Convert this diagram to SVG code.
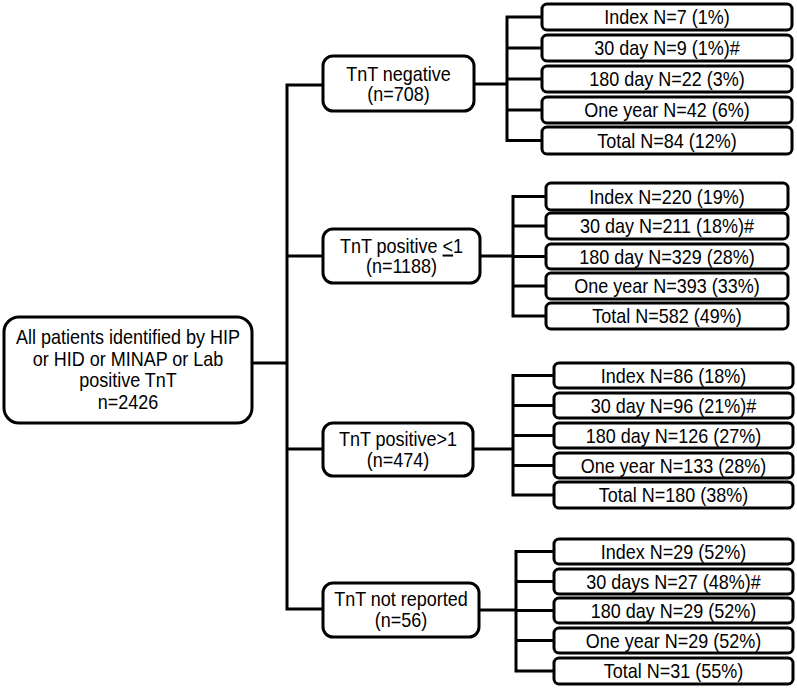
<svg xmlns="http://www.w3.org/2000/svg" width="797" height="688" viewBox="0 0 797 688">
<style>
.box{fill:#fff;stroke:#000;stroke-width:3}
.ln{fill:none;stroke:#000;stroke-width:3;stroke-linejoin:miter;stroke-linecap:square}
text{font-family:"Liberation Sans",Arial,sans-serif;font-size:20px;fill:#000;text-anchor:middle}
</style>
<rect width="797" height="688" fill="#fff"/>
<g id="connectors">
<path class="ln" d="M252 363H287M287 85V609M287 85H323M287 256H323M287 449H323M287 609H323"/>
<path class="ln" d="M474 84H507M507 17V140.5M507 17H542M507 48H542M507 79H542M507 110H542M507 140.5H542"/>
<path class="ln" d="M480 256H513M513 196.5V316M513 196.5H546M513 226H546M513 256.5H546M513 286H546M513 316H546"/>
<path class="ln" d="M473 449H513M513 375.5V495M513 375.5H554M513 405.5H554M513 435.5H554M513 465.5H554M513 495H554"/>
<path class="ln" d="M479 610H516M516 551.5V671M516 551.5H554M516 581.5H554M516 610.5H554M516 640.5H554M516 671H554"/>
</g>
<g id="root"><rect class="box" x="4" y="317" width="248" height="106" rx="15"/>
<text transform="matrix(0.9 0 0 1 128 0)" x="0" y="344">All patients identified by HIP</text><text transform="matrix(0.9 0 0 1 128 0)" x="0" y="366">or HID or MINAP or Lab</text><text transform="matrix(0.9 0 0 1 128 0)" x="0" y="387.5">positive TnT</text><text transform="matrix(0.9 0 0 1 128 0)" x="0" y="409">n=2426</text></g>
<g id="tnt-neg"><rect class="box" x="323" y="56" width="151" height="55" rx="10"/>
<text transform="matrix(0.9 0 0 1 398.5 0)" x="0" y="81">TnT negative</text><text transform="matrix(0.9 0 0 1 398.5 0)" x="0" y="101">(n=708)</text></g>
<g id="tnt-pos1"><rect class="box" x="323" y="229" width="157" height="54" rx="10"/>
<text transform="matrix(0.9 0 0 1 401.5 0)" x="0" y="253.5">TnT positive <tspan text-decoration="underline">&lt;</tspan>1</text><text transform="matrix(0.9 0 0 1 401.5 0)" x="0" y="273.5">(n=1188)</text></g>
<g id="tnt-pos2"><rect class="box" x="323" y="423" width="150" height="53" rx="10"/>
<text transform="matrix(0.9 0 0 1 398 0)" x="0" y="446.5">TnT positive&gt;1</text><text transform="matrix(0.9 0 0 1 398 0)" x="0" y="467">(n=474)</text></g>
<g id="tnt-nr"><rect class="box" x="323" y="583" width="156" height="54" rx="10"/>
<text transform="matrix(0.9 0 0 1 401 0)" x="0" y="606.5">TnT not reported</text><text transform="matrix(0.9 0 0 1 401 0)" x="0" y="627.5">(n=56)</text></g>

<g id="neg-index"><rect class="box" x="542" y="4" width="250" height="26" rx="5"/><text transform="matrix(0.9 0 0 1 667 0)" x="0" y="24.5">Index N=7 (1%)</text></g>
<g id="neg-30"><rect class="box" x="542" y="35" width="250" height="26" rx="5"/><text transform="matrix(0.9 0 0 1 667 0)" x="0" y="55.5">30 day N=9 (1%)#</text></g>
<g id="neg-180"><rect class="box" x="542" y="66" width="250" height="26" rx="5"/><text transform="matrix(0.9 0 0 1 667 0)" x="0" y="86.5">180 day N=22 (3%)</text></g>
<g id="neg-1y"><rect class="box" x="542" y="97" width="250" height="26" rx="5"/><text transform="matrix(0.9 0 0 1 667 0)" x="0" y="117.5">One year N=42 (6%)</text></g>
<g id="neg-total"><rect class="box" x="542" y="127" width="250" height="27" rx="5"/><text transform="matrix(0.9 0 0 1 667 0)" x="0" y="148">Total N=84 (12%)</text></g>

<g id="p1-index"><rect class="box" x="546" y="183" width="242" height="27" rx="5"/><text transform="matrix(0.9 0 0 1 667 0)" x="0" y="204">Index N=220 (19%)</text></g>
<g id="p1-30"><rect class="box" x="546" y="213" width="242" height="26" rx="5"/><text transform="matrix(0.9 0 0 1 667 0)" x="0" y="233.5">30 day N=211 (18%)#</text></g>
<g id="p1-180"><rect class="box" x="546" y="244" width="242" height="25" rx="5"/><text transform="matrix(0.9 0 0 1 667 0)" x="0" y="264">180 day N=329 (28%)</text></g>
<g id="p1-1y"><rect class="box" x="546" y="273" width="242" height="26" rx="5"/><text transform="matrix(0.9 0 0 1 667 0)" x="0" y="293.5">One year N=393 (33%)</text></g>
<g id="p1-total"><rect class="box" x="546" y="303" width="242" height="26" rx="5"/><text transform="matrix(0.9 0 0 1 667 0)" x="0" y="323.5">Total N=582 (49%)</text></g>

<g id="p2-index"><rect class="box" x="554" y="363" width="239" height="25" rx="5"/><text transform="matrix(0.9 0 0 1 673.5 0)" x="0" y="383">Index N=86 (18%)</text></g>
<g id="p2-30"><rect class="box" x="554" y="393" width="239" height="25" rx="5"/><text transform="matrix(0.9 0 0 1 673.5 0)" x="0" y="413">30 day N=96 (21%)#</text></g>
<g id="p2-180"><rect class="box" x="554" y="423" width="239" height="25" rx="5"/><text transform="matrix(0.9 0 0 1 673.5 0)" x="0" y="443">180 day N=126 (27%)</text></g>
<g id="p2-1y"><rect class="box" x="554" y="453" width="239" height="25" rx="5"/><text transform="matrix(0.9 0 0 1 673.5 0)" x="0" y="473">One year N=133 (28%)</text></g>
<g id="p2-total"><rect class="box" x="554" y="482" width="239" height="26" rx="5"/><text transform="matrix(0.9 0 0 1 673.5 0)" x="0" y="502.5">Total N=180 (38%)</text></g>

<g id="nr-index"><rect class="box" x="554" y="539" width="239" height="25" rx="5"/><text transform="matrix(0.9 0 0 1 673.5 0)" x="0" y="559">Index N=29 (52%)</text></g>
<g id="nr-30"><rect class="box" x="554" y="569" width="239" height="25" rx="5"/><text transform="matrix(0.9 0 0 1 673.5 0)" x="0" y="589">30 days N=27 (48%)#</text></g>
<g id="nr-180"><rect class="box" x="554" y="598" width="239" height="25" rx="5"/><text transform="matrix(0.9 0 0 1 673.5 0)" x="0" y="618">180 day N=29 (52%)</text></g>
<g id="nr-1y"><rect class="box" x="554" y="628" width="239" height="25" rx="5"/><text transform="matrix(0.9 0 0 1 673.5 0)" x="0" y="648">One year N=29 (52%)</text></g>
<g id="nr-total"><rect class="box" x="554" y="658" width="239" height="26" rx="5"/><text transform="matrix(0.9 0 0 1 673.5 0)" x="0" y="678.5">Total N=31 (55%)</text></g>
</svg>
